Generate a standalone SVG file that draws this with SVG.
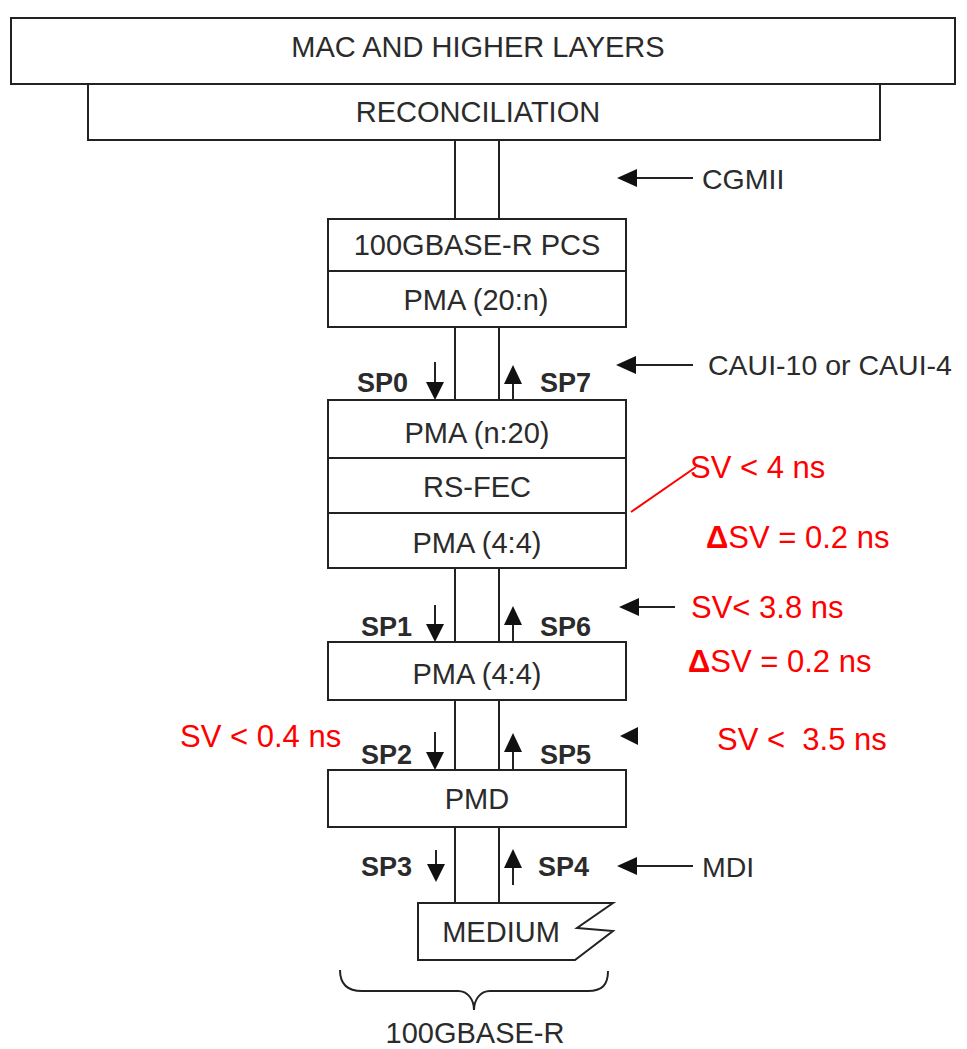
<svg xmlns="http://www.w3.org/2000/svg" width="967" height="1049" viewBox="0 0 967 1049">
<style>
.box{fill:#fff;stroke:#222;stroke-width:2}
.ln{stroke:#222;stroke-width:2;fill:none}
.t{font-family:"Liberation Sans",Arial,sans-serif;font-size:29px;fill:#2b2b2b;text-anchor:middle}
.l{font-family:"Liberation Sans",Arial,sans-serif;font-size:28.5px;fill:#2b2b2b}
.sp{font-family:"Liberation Sans",Arial,sans-serif;font-size:27px;font-weight:bold;fill:#2b2b2b}
.r{font-family:"Liberation Sans",Arial,sans-serif;font-size:31px;fill:#ff0000}
.ah{fill:#111}
</style>
<rect width="967" height="1049" fill="#fff"/>

<g id="connectors">
<line class="ln" x1="455" y1="140" x2="455" y2="219"/>
<line class="ln" x1="499" y1="140" x2="499" y2="219"/>
<line class="ln" x1="455" y1="327" x2="455" y2="400"/>
<line class="ln" x1="499" y1="327" x2="499" y2="400"/>
<line class="ln" x1="455" y1="568" x2="455" y2="642"/>
<line class="ln" x1="499" y1="568" x2="499" y2="642"/>
<line class="ln" x1="455" y1="700" x2="455" y2="770"/>
<line class="ln" x1="499" y1="700" x2="499" y2="770"/>
<line class="ln" x1="455" y1="827" x2="455" y2="903"/>
<line class="ln" x1="499" y1="827" x2="499" y2="903"/>
<!-- SP arrows -->
<line class="ln" x1="435" y1="362" x2="435" y2="386"/><path class="ah" d="M426,382 L444,382 L435,400 Z"/>
<line class="ln" x1="513" y1="400" x2="513" y2="380"/><path class="ah" d="M504,384 L522,384 L513,365 Z"/>
<line class="ln" x1="435" y1="605" x2="435" y2="628"/><path class="ah" d="M426,624 L444,624 L435,642 Z"/>
<line class="ln" x1="513" y1="642" x2="513" y2="622"/><path class="ah" d="M504,625 L522,625 L513,606 Z"/>
<line class="ln" x1="435" y1="732" x2="435" y2="756"/><path class="ah" d="M426,752 L444,752 L435,770 Z"/>
<line class="ln" x1="513" y1="770" x2="513" y2="750"/><path class="ah" d="M504,752 L522,752 L513,733 Z"/>
<line class="ln" x1="436" y1="850" x2="436" y2="868"/><path class="ah" d="M427,864 L445,864 L436,882 Z"/>
<line class="ln" x1="513" y1="885" x2="513" y2="865"/><path class="ah" d="M504,868 L522,868 L513,849 Z"/>
<!-- left-pointing arrows -->
<line class="ln" x1="693" y1="178" x2="632" y2="178"/><path class="ah" d="M617,178 L637,169 L637,187 Z"/>
<line class="ln" x1="693" y1="365" x2="632" y2="365"/><path class="ah" d="M616,365 L636,356 L636,374 Z"/>
<line class="ln" x1="675" y1="607" x2="634" y2="607"/><path class="ah" d="M619,607 L639,598 L639,616 Z"/>
<path class="ah" d="M620,736 L638,727 L638,745 Z"/>
<line class="ln" x1="693" y1="866" x2="632" y2="866"/><path class="ah" d="M617,866 L637,857 L637,875 Z"/>
<!-- red leader -->
<line x1="631" y1="512" x2="696" y2="467" stroke="#ff0000" stroke-width="2"/>
<!-- brace -->
<path class="ln" d="M340,970 C340,985 348,991 362,991 L458,991 C468,991 474,1000 474,1010 C474,1000 480,991 490,991 L588,991 C602,991 608,985 608,971"/>
</g>

<g id="mac"><rect class="box" x="11" y="18" width="944" height="66"/><text class="t" x="478" y="57">MAC AND HIGHER LAYERS</text></g>
<g id="reconciliation"><rect class="box" x="88" y="84" width="792" height="56"/><text class="t" x="478" y="122">RECONCILIATION</text></g>
<g id="pcs"><rect class="box" x="328" y="219" width="298" height="52"/><text class="t" x="477" y="255">100GBASE-R PCS</text></g>
<g id="pma20n"><rect class="box" x="328" y="271" width="298" height="56"/><text class="t" x="476" y="310">PMA (20:n)</text></g>
<g id="pman20"><rect class="box" x="328" y="400" width="298" height="58"/><text class="t" x="477" y="443">PMA (n:20)</text></g>
<g id="rsfec"><rect class="box" x="328" y="458" width="298" height="55"/><text class="t" x="477" y="497">RS-FEC</text></g>
<g id="pma44a"><rect class="box" x="328" y="513" width="298" height="55"/><text class="t" x="477" y="553">PMA (4:4)</text></g>
<g id="pma44b"><rect class="box" x="328" y="642" width="298" height="58"/><text class="t" x="477" y="684">PMA (4:4)</text></g>
<g id="pmd"><rect class="box" x="328" y="770" width="298" height="57"/><text class="t" x="477" y="809">PMD</text></g>
<g id="medium"><path class="box" d="M418,903 L613,903 L577,928 L613,931 L575,960 L418,960 Z"/><text class="t" x="501" y="942">MEDIUM</text></g>

<g id="labels">
<text class="l" x="702" y="189">CGMII</text>
<text class="l" x="708" y="375">CAUI-10 or CAUI-4</text>
<text class="l" x="702" y="877">MDI</text>
<text class="t" x="475" y="1043">100GBASE-R</text>
<text class="sp" x="357" y="392">SP0</text>
<text class="sp" x="540" y="392">SP7</text>
<text class="sp" x="361" y="636">SP1</text>
<text class="sp" x="540" y="636">SP6</text>
<text class="sp" x="361" y="764">SP2</text>
<text class="sp" x="540" y="764">SP5</text>
<text class="sp" x="361" y="876">SP3</text>
<text class="sp" x="538" y="876">SP4</text>
</g>

<g id="annotations">
<text class="r" x="690" y="478">SV &lt; 4 ns</text>
<text class="r" x="706" y="548"><tspan font-weight="bold">Δ</tspan>SV = 0.2 ns</text>
<text class="r" x="691" y="618">SV&lt; 3.8 ns</text>
<text class="r" x="688" y="672"><tspan font-weight="bold">Δ</tspan>SV = 0.2 ns</text>
<text class="r" x="180" y="747">SV &lt; 0.4 ns</text>
<text class="r" x="717" y="750" xml:space="preserve">SV &lt;  3.5 ns</text>
</g>
</svg>
